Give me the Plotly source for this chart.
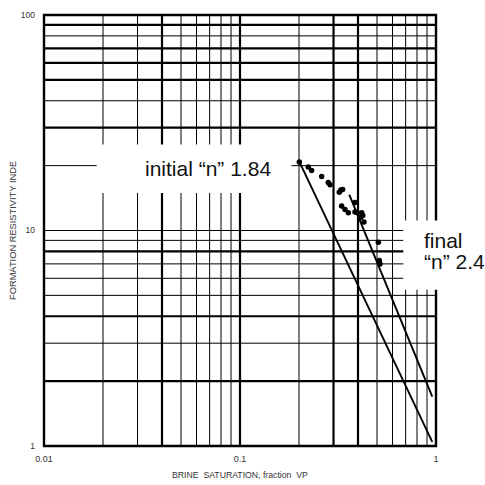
import plotly.graph_objects as go

# Brine saturation (fraction of pore volume) vs formation resistivity index
brine_saturation = [0.2007, 0.223, 0.232, 0.261, 0.282, 0.288, 0.321, 0.327, 0.334,
                    0.386, 0.330, 0.343, 0.357, 0.386, 0.397, 0.418, 0.423, 0.413,
                    0.429, 0.508, 0.514, 0.518]
resistivity_index = [20.8, 19.7, 19.0, 17.8, 16.7, 16.3, 15.05, 15.4, 15.5,
                     13.5, 13.0, 12.5, 12.1, 12.2, 12.1, 12.1, 11.75, 11.5,
                     10.96, 8.81, 7.26, 7.0]

# Fitted saturation-exponent lines (end points)
initial_sw = [0.2007, 0.957]
initial_ri = [20.87, 1.046]
final_sw = [0.361, 0.957]
final_ri = [14.67, 1.696]

initial_n = "1.84"
final_n = "2.4"

# Log-paper grid
x_grid_thin = [0.02, 0.03, 0.05, 0.06, 0.07, 0.08, 0.09, 0.2, 0.5, 0.6, 0.7, 0.8, 0.9]
x_grid_thick = [0.04, 0.1, 0.3, 0.4]
y_grid_thin = [3, 5, 6, 7, 9, 10, 20, 40, 80]
y_grid_thick = [2, 4, 8, 30, 50, 60, 70, 90]

x_ticks = [0.01, 0.1, 1]
x_tick_text = ["0.01", "0.1", "1"]
y_ticks = [1, 10, 100]
y_tick_text = ["1", "10", "100"]

X_MIN, X_MAX = 0.01, 1
Y_MIN, Y_MAX = 1, 100

FONT = "Liberation Sans, Arial, sans-serif"

fig = go.Figure()

fig.add_trace(go.Scatter(x=initial_sw, y=initial_ri, mode="lines",
                         line=dict(color="black", width=1.9), hoverinfo="skip"))
fig.add_trace(go.Scatter(x=final_sw, y=final_ri, mode="lines",
                         line=dict(color="black", width=1.9), hoverinfo="skip"))
fig.add_trace(go.Scatter(x=brine_saturation, y=resistivity_index, mode="markers",
                         marker=dict(color="black", size=5.5, line=dict(width=0))))

shapes = []
for v in x_grid_thin:
    shapes.append(dict(type="line", xref="x", yref="y", x0=v, x1=v, y0=Y_MIN, y1=Y_MAX,
                       line=dict(color="black", width=1), layer="below"))
for v in x_grid_thick:
    shapes.append(dict(type="line", xref="x", yref="y", x0=v, x1=v, y0=Y_MIN, y1=Y_MAX,
                       line=dict(color="black", width=2.2), layer="below"))
for v in y_grid_thin:
    shapes.append(dict(type="line", xref="x", yref="y", x0=X_MIN, x1=X_MAX, y0=v, y1=v,
                       line=dict(color="black", width=1), layer="below"))
for v in y_grid_thick:
    shapes.append(dict(type="line", xref="x", yref="y", x0=X_MIN, x1=X_MAX, y0=v, y1=v,
                       line=dict(color="black", width=2.2), layer="below"))

# Frame
shapes.append(dict(type="rect", xref="paper", yref="paper", x0=0, x1=1, y0=0, y1=1,
                   line=dict(color="black", width=2.4), fillcolor="rgba(0,0,0,0)",
                   layer="above"))

# White label panels
shapes.append(dict(type="rect", xref="paper", yref="paper",
                   x0=(96.7 - 44) / 392, x1=(291.5 - 44) / 392,
                   y0=(446 - 190) / 436, y1=(446 - 141) / 436,
                   line=dict(width=0), fillcolor="white", layer="above"))
shapes.append(dict(type="rect", xref="paper", yref="paper",
                   x0=(403.3 - 44) / 392, x1=(490 - 44) / 392,
                   y0=(446 - 288) / 436, y1=(446 - 218) / 436,
                   line=dict(width=0), fillcolor="white", layer="above"))

label_font = dict(family=FONT, size=21, color="#111111")
title_font = dict(family=FONT, size=9, color="#333333")
annotations = [
    dict(text="initial \u201cn\u201d " + initial_n, xref="paper", yref="paper",
         x=(208 - 44) / 392, y=(446 - 165) / 436, xanchor="center", yanchor="middle",
         showarrow=False, font=label_font),
    dict(text="final", xref="paper", yref="paper",
         x=(421.5 - 44) / 392, y=(446 - 238) / 436, xanchor="left", yanchor="middle",
         showarrow=False, font=label_font),
    dict(text="\u201cn\u201d " + final_n, xref="paper", yref="paper",
         x=(421.5 - 44) / 392, y=(446 - 259.5) / 436, xanchor="left", yanchor="middle",
         showarrow=False, font=label_font),
    dict(text="BRINE  SATURATION, fraction  VP", xref="paper", yref="paper",
         x=0.5, y=(446 - 475) / 436, xanchor="center", yanchor="middle",
         showarrow=False, font=dict(family=FONT, size=8.7, color="#333333")),
    dict(text="FORMATION RESISTIVITY INDE", xref="paper", yref="paper",
         x=(13 - 44) / 392, y=(446 - 228.5) / 436, xanchor="center", yanchor="middle",
         textangle=-90, showarrow=False, font=dict(family=FONT, size=9.3, color="#333333")),
]

fig.update_layout(
    width=485, height=485,
    margin=dict(l=44, r=49, t=10, b=39),
    paper_bgcolor="white", plot_bgcolor="white",
    showlegend=False,
    shapes=shapes,
    annotations=annotations,
    xaxis=dict(type="log", range=[-2, 0], tickvals=x_ticks, ticktext=x_tick_text,
               showgrid=False, zeroline=False, showline=False, ticks="",
               tickfont=dict(family=FONT, size=9, color="#333333"), ticklabelstandoff=6),
    yaxis=dict(type="log", range=[0, 2], tickvals=y_ticks, ticktext=y_tick_text,
               showgrid=False, zeroline=False, showline=False, ticks="",
               tickfont=dict(family=FONT, size=8.5, color="#333333"), ticklabelstandoff=8),
)

fig.write_html("out.html")
